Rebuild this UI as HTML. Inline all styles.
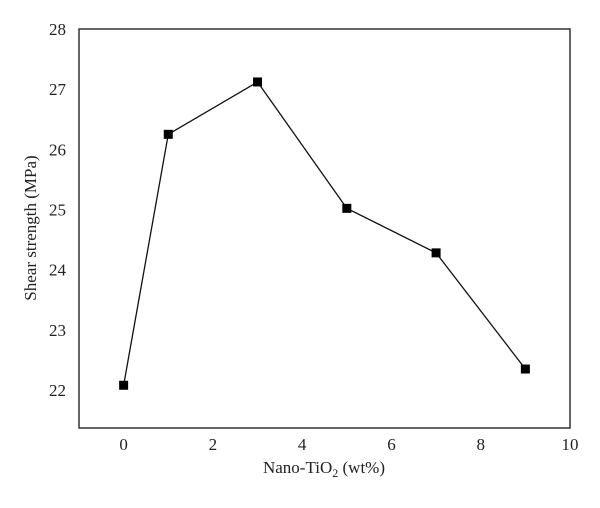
<!DOCTYPE html>
<html><head><meta charset="utf-8"><style>
html,body{margin:0;padding:0;background:#fff;}
svg text{font-family:"Liberation Serif",serif;fill:#222;}
</style></head><body>
<svg width="600" height="503" viewBox="0 0 600 503">
<rect x="79" y="29" width="491" height="399" fill="none" stroke="#333" stroke-width="1.5"/>
<g id="yt"></g><g id="xt"></g>
<polyline id="line" fill="none" stroke="#111" stroke-width="1.3"/>
<g id="pts"></g>
<text x="324" y="473" font-size="17" text-anchor="middle">Nano-TiO<tspan font-size="12" dy="4">2</tspan><tspan dy="-4"> (wt%)</tspan></text>
<text transform="translate(36,228) rotate(-90)" font-size="17" text-anchor="middle">Shear strength (MPa)</text>
</svg>
<script>
const xValues=[0,1,3,5,7,9];
const yValues=[22.08,26.25,27.12,25.02,24.28,22.35];
const xTicks=[0,2,4,6,8,10];
const yTicks=[22,23,24,25,26,27,28];
const X0=79,X1=570,Y0=428,Y1=29,xmin=-1,xmax=10,ymin=21.37,ymax=28;
const sx=v=>X0+(v-xmin)/(xmax-xmin)*(X1-X0);
const sy=v=>Y0-(v-ymin)/(ymax-ymin)*(Y0-Y1);
const NS="http://www.w3.org/2000/svg";
const yt=document.getElementById('yt'),xt=document.getElementById('xt'),pts=document.getElementById('pts');
yTicks.forEach(v=>{const t=document.createElementNS(NS,'text');


t.setAttribute('x',66);t.setAttribute('y',sy(v)+6);t.setAttribute('font-size','17');t.setAttribute('text-anchor','end');t.textContent=v;yt.appendChild(t);});
xTicks.forEach(v=>{const t=document.createElementNS(NS,'text');


t.setAttribute('x',sx(v));t.setAttribute('y',450);t.setAttribute('font-size','17');t.setAttribute('text-anchor','middle');t.textContent=v;xt.appendChild(t);});
document.getElementById('line').setAttribute('points',xValues.map((x,i)=>sx(x)+','+sy(yValues[i])).join(' '));
xValues.forEach((x,i)=>{const r=document.createElementNS(NS,'rect');


r.setAttribute('x',sx(x)-4.5);r.setAttribute('y',sy(yValues[i])-4.5);r.setAttribute('width',9);r.setAttribute('height',9);r.setAttribute('fill','#000');pts.appendChild(r);});
</script>
</body></html>
